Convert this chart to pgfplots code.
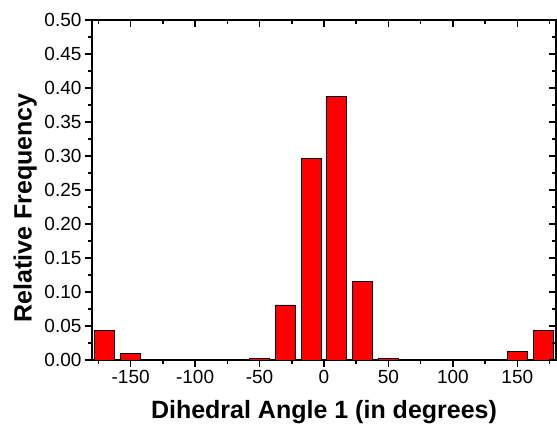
\documentclass[border=0pt]{standalone}
\usepackage{pgfplots}
\pgfplotsset{compat=1.18}
\usepackage{fontspec}
\setmainfont{Liberation Sans}

\pgfplotsset{
  histframe/.style={
    width=464pt, height=340pt, scale only axis,
    xmin=-180, xmax=180, ymin=0, ymax=0.5,
    xtick={-150,-100,-50,0,50,100,150},
    minor xtick={-175,-125,-75,-25,25,75,125,175},
    ytick={0,0.05,0.1,0.15,0.2,0.25,0.3,0.35,0.4,0.45,0.5},
    minor ytick={0.025,0.075,0.125,0.175,0.225,0.275,0.325,0.375,0.425,0.475},
    major tick length=7pt, minor tick length=4pt,
    every tick/.style={black, line width=1.6pt},
  }
}

\begin{document}
\begin{tikzpicture}
\begin{axis}[
    histframe, name=ax,
    tick pos=left, tick align=outside,
    axis line style={line width=1.8pt},
    xticklabels={-150,-100,-50,0,50,100,150},
    yticklabels={0.00,0.05,0.10,0.15,0.20,0.25,0.30,0.35,0.40,0.45,0.50},
    tick label style={font=\fontsize{19}{19}\selectfont},
    label style={font=\bfseries\fontsize{25}{25}\selectfont},
    xlabel={Dihedral Angle 1 (in degrees)},
    ylabel={Relative Frequency},
    xlabel style={at={(axis description cs:0.5,-0.172)}, anchor=base},
    ylabel style={at={(axis description cs:-0.144,0.447)}, anchor=center},
]
\addplot[ybar, bar width=15.5, fill=red, draw=black, line width=0.8pt]
    coordinates {
    (-170,0.044)(-150,0.010)(-50,0.002)(-30,0.081)(-10,0.297)
    (10,0.388)(30,0.116)(50,0.002)(150,0.013)(170,0.043)
    };
\end{axis}
\begin{scope}[overlay]
\begin{axis}[
    histframe, at={(ax.south west)}, anchor=south west,
    tick pos=right, tick align=inside,
    xticklabels={}, yticklabels={},
    tick label style={overlay},
    axis line style={draw=none},
]
\end{axis}
\end{scope}
\path ([shift={(-92pt,-64pt)}]ax.south west) rectangle ++(557pt,424pt);
\end{tikzpicture}
\end{document}
